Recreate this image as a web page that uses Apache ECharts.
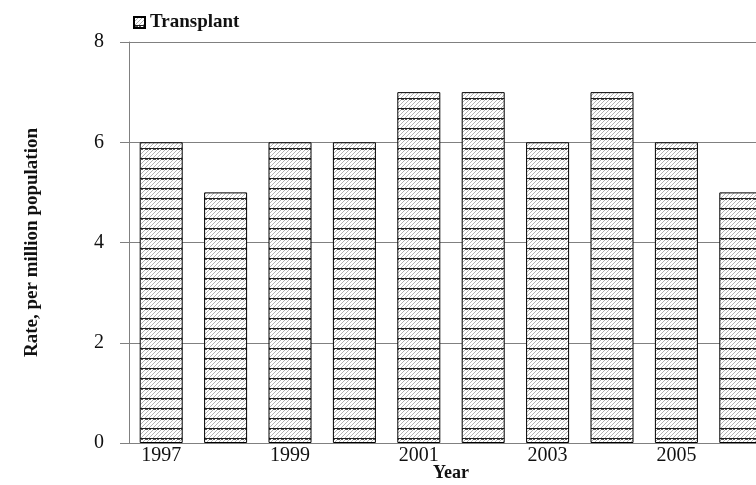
<!DOCTYPE html>
<html>
<head>
<meta charset="utf-8">
<title>Transplant rate</title>
<script src="https://cdn.jsdelivr.net/npm/echarts@6/dist/echarts.min.js"></script>
<style>
  html, body { margin: 0; padding: 0; background: #fff; }
  #chart { width: 756px; height: 485px; }
</style>
</head>
<body>
<div id="chart"></div>
<script>
// data
var years = ["1997", "1998", "1999", "2000", "2001", "2002", "2003", "2004", "2005", "2006"];
var transplant = [6, 5, 6, 6, 7, 7, 6, 7, 6, 5];
var yTicks = [0, 2, 4, 6, 8];

// dotted fill with dark dashed stripes, like the print hatch
function makePattern() {
  var c = document.createElement("canvas");
  c.width = 8;
  c.height = 10;
  var ctx = c.getContext("2d");
  ctx.fillStyle = "#fff";
  ctx.fillRect(0, 0, 8, 10);
  ctx.fillStyle = "#b4b4b4";
  for (var y = 0; y < 8; y++) {
    for (var x = y % 2; x < 8; x += 2) {
      if ((x + y) % 4 !== 2) ctx.fillRect(x, y, 1, 1);
    }
  }
  ctx.fillStyle = "#222";
  ctx.fillRect(0, 8, 8, 1);
  ctx.fillStyle = "#555";
  ctx.fillRect(1, 9, 3, 1);
  ctx.fillRect(5, 9, 2, 1);
  return c;
}

var font = "'Liberation Serif', 'Times New Roman', serif";
var chart = echarts.init(document.getElementById("chart"));

chart.setOption({
  animation: false,
  legend: {
    left: 128,
    top: 8,
    icon: "rect",
    itemWidth: 11,
    itemHeight: 11,
    itemGap: 6,
    textStyle: { fontFamily: font, fontWeight: "bold", fontSize: 19, color: "#111" },
    data: ["Transplant"]
  },
  grid: { left: 129, top: 42, width: 644, height: 401, outerBoundsMode: "none" },
  xAxis: {
    type: "category",
    data: years,
    name: "Year",
    nameLocation: "middle",
    nameGap: 21,
    nameMoveOverlap: false,
    nameTextStyle: { fontFamily: font, fontWeight: "bold", fontSize: 18, color: "#111" },
    axisLine: { lineStyle: { color: "#808080", width: 1 } },
    axisTick: { show: false },
    axisLabel: { interval: 1, margin: 3, fontFamily: font, fontSize: 20, color: "#111" }
  },
  yAxis: {
    type: "value",
    min: yTicks[0],
    max: yTicks[yTicks.length - 1],
    interval: 2,
    name: "Rate, per million population",
    nameLocation: "middle",
    nameGap: 87,
    nameTextStyle: { fontFamily: font, fontWeight: "bold", fontSize: 19, color: "#111" },
    axisLine: { show: true, lineStyle: { color: "#808080", width: 1 } },
    axisTick: { show: true, length: 9, lineStyle: { color: "#808080" } },
    axisLabel: { margin: 25, fontFamily: font, fontSize: 20, color: "#111" },
    splitLine: { lineStyle: { color: "#808080", width: 1 } }
  },
  series: [{
    name: "Transplant",
    type: "bar",
    data: transplant,
    barWidth: 43,
    itemStyle: {
      color: { image: makePattern(), repeat: "repeat" },
      borderColor: "#000",
      borderWidth: 1
    }
  }]
});
</script>
</body>
</html>
